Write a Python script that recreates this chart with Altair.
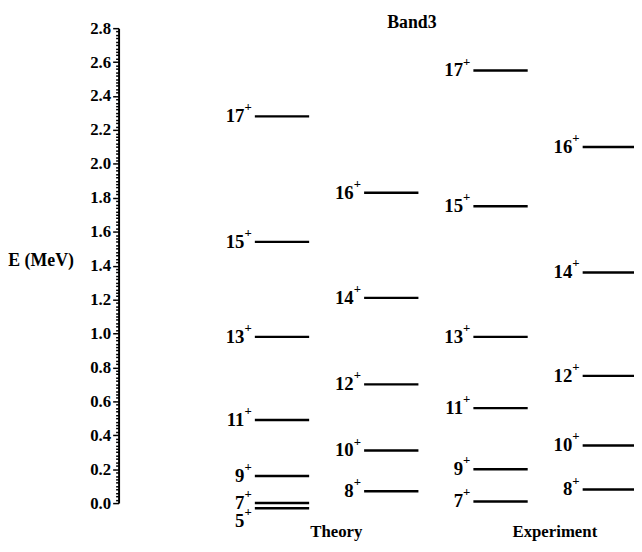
import altair as alt
import pandas as pd

# ---- data ----
chart_title = ["Band3"]
columns = ["Theory odd", "Theory even", "Experiment odd", "Experiment even"]
group_labels = ["Theory", "Experiment"]
group_columns = ["Theory odd", "Experiment odd"]

theory_odd_spins = [5, 7, 9, 11, 13, 15, 17]
theory_odd_energy = [-0.03, 0.00, 0.16, 0.49, 0.98, 1.54, 2.28]
theory_even_spins = [8, 10, 12, 14, 16]
theory_even_energy = [0.07, 0.31, 0.70, 1.21, 1.83]
exp_odd_spins = [7, 9, 11, 13, 15, 17]
exp_odd_energy = [0.01, 0.20, 0.56, 0.98, 1.75, 2.55]
exp_even_spins = [8, 10, 12, 14, 16]
exp_even_energy = [0.08, 0.34, 0.75, 1.36, 2.10]

axis_ticks = [round(i * 0.02, 2) for i in range(141)]

rows = []
for col, spins, energies in [
    (columns[0], theory_odd_spins, theory_odd_energy),
    (columns[1], theory_even_spins, theory_even_energy),
    (columns[2], exp_odd_spins, exp_odd_energy),
    (columns[3], exp_even_spins, exp_even_energy),
]:
    for s, e in zip(spins, energies):
        rows.append({"col": col, "spin": s, "label": str(s), "energy": e,
                     "crowded": col == columns[0] and s == 5})
df = pd.DataFrame(rows)
groups = pd.DataFrame({"group": group_labels, "col": group_columns})
title_df = pd.DataFrame({"title": chart_title})

FONT = "Liberation Serif"
major = "abs(datum.value*5 - round(datum.value*5)) < 0.001"

x_enc = alt.X("col:N", sort=columns,
              scale=alt.Scale(type="point", range=[165.5, 497.5], padding=0),
              axis=None)
y_enc = alt.Y(
    "energy:Q",
    scale=alt.Scale(domain=[0, 2.8], nice=False, zero=False),
    axis=alt.Axis(
        values=axis_ticks,
        tickCount=300,
        labelExpr=f"{major} ? format(datum.value, '.1f') : ''",
        labelOverlap=False,
        tickSize={"condition": {"test": major, "value": 6}, "value": 3},
        tickWidth=1.5,
        tickColor="black",
        domainColor="black",
        domainWidth=2,
        grid=False,
        labelFont=FONT,
        labelFontSize=17,
        labelFontWeight="bold",
        labelColor="black",
        labelPadding=2,
        title="E (MeV)",
        titleAngle=0,
        titleFont=FONT,
        titleFontSize=18,
        titleFontWeight="bold",
        titleColor="black",
        titleAlign="center",
        titleBaseline="middle",
        titleX=-79,
        titleY=235,
    ),
)

base = alt.Chart(df)

levels = base.mark_tick(orient="horizontal", size=55, thickness=2.5,
                        color="black", opacity=1).encode(x=x_enc, y=y_enc)

num_normal = base.transform_filter("!datum.crowded").mark_text(
    align="right", baseline="alphabetic", dx=-38, dy=6, font=FONT,
    fontSize=19, fontWeight="bold", color="black"
).encode(x=x_enc, y=alt.Y("energy:Q"), text="label:N")

plus_normal = base.transform_filter("!datum.crowded").mark_text(
    text="+", align="left", baseline="middle", dx=-38, dy=-9, font=FONT,
    fontSize=13, fontWeight="bold", color="black"
).encode(x=x_enc, y=alt.Y("energy:Q"))

num_crowded = base.transform_filter("datum.crowded").mark_text(
    align="right", baseline="alphabetic", dx=-38, dy=19, font=FONT,
    fontSize=19, fontWeight="bold", color="black"
).encode(x=x_enc, y=alt.Y("energy:Q"), text="label:N")

plus_crowded = base.transform_filter("datum.crowded").mark_text(
    text="+", align="left", baseline="middle", dx=-38, dy=4, font=FONT,
    fontSize=13, fontWeight="bold", color="black"
).encode(x=x_enc, y=alt.Y("energy:Q"))

group_text = alt.Chart(groups).mark_text(
    align="center", baseline="alphabetic", dx=55, font=FONT, fontSize=17,
    fontWeight="bold", color="black"
).encode(x=x_enc, y=alt.value(515), text="group:N")

title_text = alt.Chart(title_df).mark_text(
    align="center", baseline="middle", font=FONT, fontSize=18,
    fontWeight="bold", color="black"
).encode(x=alt.value(297), y=alt.value(-5), text="title:N")

chart = alt.layer(
    levels, num_normal, plus_normal, num_crowded, plus_crowded, group_text,
    title_text
).properties(
    width=514,
    height=481,
    padding={"left": 112, "top": 17, "right": 8, "bottom": 38},
    autosize=alt.AutoSizeParams(type="none"),
    background="white",
).configure_view(stroke=None)

chart.save("out.html", embed_options={"renderer": "svg", "actions": False})
